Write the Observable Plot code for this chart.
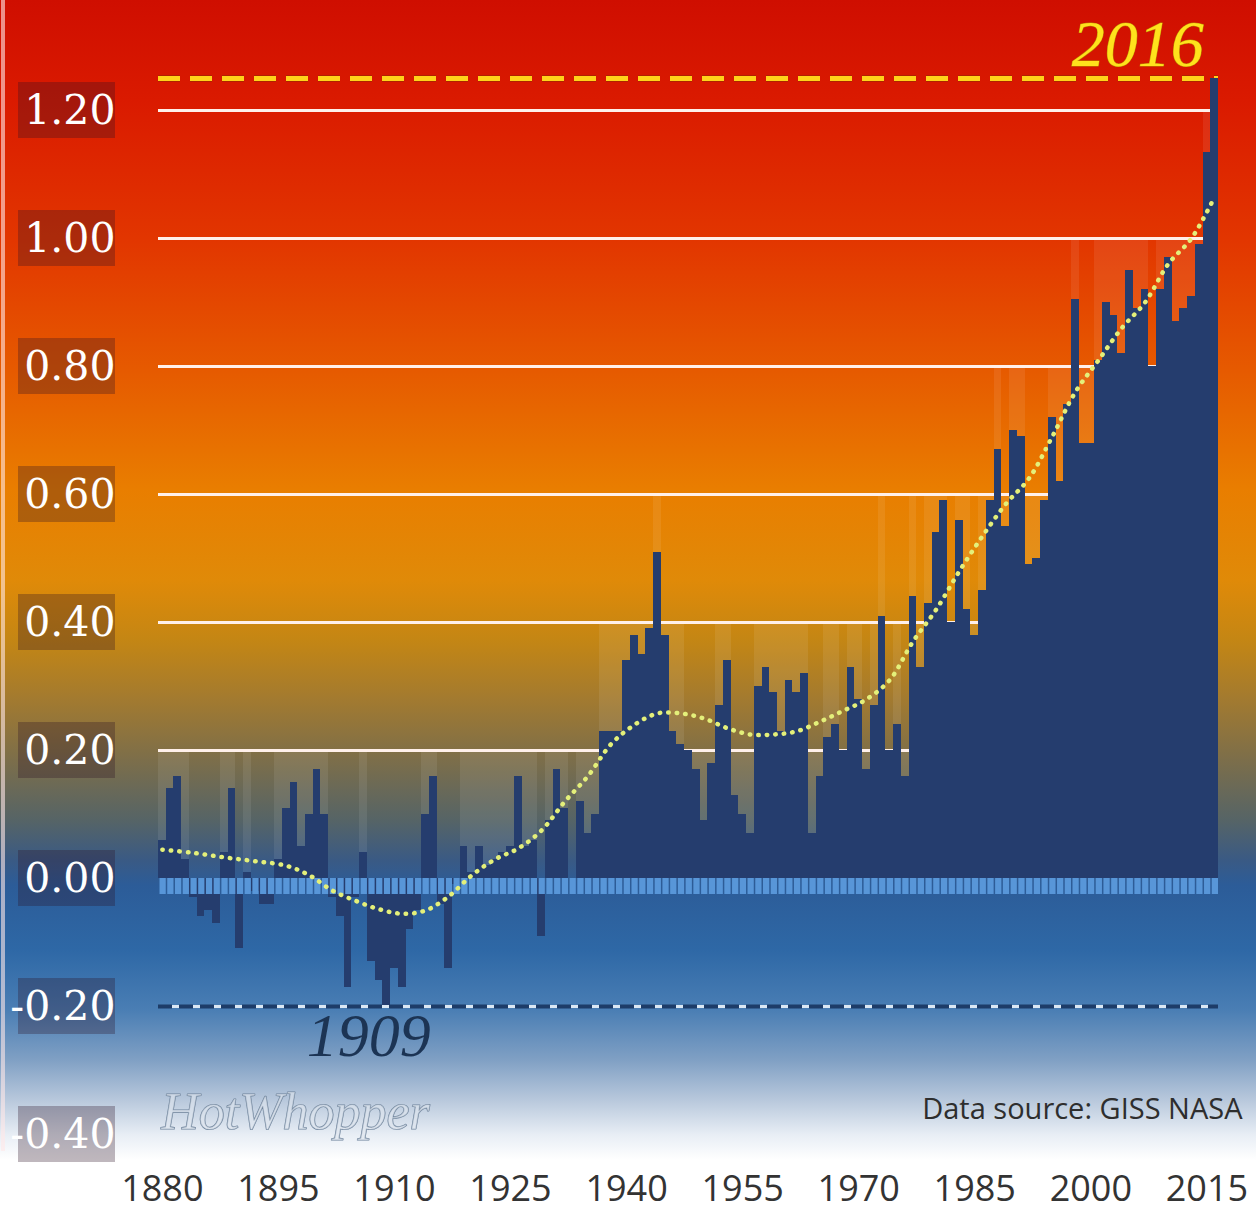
<!DOCTYPE html>
<html>
<head>
<meta charset="utf-8">
<script src="https://cdn.jsdelivr.net/npm/d3@7"></script>
<script src="https://cdn.jsdelivr.net/npm/@observablehq/plot@0.6"></script>
<style>
  html, body { margin: 0; padding: 0; background: #ffffff; }
  #chart { width: 1256px; height: 1211px; position: relative; }
  #chart svg { display: block; }
</style>
</head>
<body>
<div id="chart"></div>
<script>
// ---- Data ----
const firstYear = 1880;
const lastYear = 2016;
const anomalies = [
  0.06, 0.14, 0.16, 0.03, -0.03, -0.06, -0.05, -0.07, 0.04, 0.14,   // 1880-1889
  -0.11, 0.01, -0.02, -0.04, -0.04, 0.03, 0.11, 0.15, 0.05, 0.10,   // 1890-1899
  0.17, 0.10, -0.03, -0.06, -0.17, -0.03, 0.04, -0.13, -0.16, -0.20, // 1900-1909
  -0.14, -0.17, -0.08, -0.05, 0.10, 0.16, -0.04, -0.14, -0.01, 0.05, // 1910-1919
  0.01, 0.05, 0.02, 0.03, 0.04, 0.05, 0.16, 0.05, 0.06, -0.09,      // 1920-1929
  0.09, 0.17, 0.11, 0.00, 0.12, 0.07, 0.10, 0.23, 0.23, 0.23,       // 1930-1939
  0.34, 0.38, 0.35, 0.39, 0.51, 0.38, 0.23, 0.21, 0.20, 0.17,       // 1940-1949
  0.09, 0.18, 0.27, 0.34, 0.13, 0.10, 0.07, 0.30, 0.33, 0.29,       // 1950-1959
  0.23, 0.31, 0.29, 0.32, 0.07, 0.16, 0.22, 0.24, 0.20, 0.33,       // 1960-1969
  0.28, 0.17, 0.27, 0.41, 0.20, 0.24, 0.16, 0.44, 0.33, 0.43,       // 1970-1979
  0.54, 0.59, 0.40, 0.56, 0.42, 0.38, 0.45, 0.59, 0.67, 0.55,       // 1980-1989
  0.70, 0.69, 0.49, 0.50, 0.59, 0.72, 0.62, 0.74, 0.905, 0.68,      // 1990-1999
  0.68, 0.81, 0.90, 0.88, 0.82, 0.95, 0.89, 0.92, 0.80, 0.92,       // 2000-2009
  0.97, 0.87, 0.89, 0.91, 0.99, 1.135, 1.25                          // 2010-2016
];
const smoothYears = [1880, 1884, 1888, 1892, 1896, 1899, 1902, 1905, 1908, 1911, 1914, 1917,
  1920, 1923, 1926, 1929, 1932, 1935, 1938, 1941, 1944, 1947, 1950, 1953, 1956, 1959, 1962,
  1965, 1968, 1971, 1974, 1977, 1980, 1983, 1986, 1989, 1992, 1995, 1998, 2001, 2004, 2007,
  2010, 2013, 2016];
const smoothValues = [0.045, 0.040, 0.033, 0.027, 0.020, 0.005, -0.019, -0.035, -0.048, -0.055,
  -0.050, -0.028, 0.005, 0.030, 0.047, 0.075, 0.12, 0.16, 0.21, 0.24, 0.258, 0.258, 0.25, 0.235,
  0.225, 0.225, 0.23, 0.245, 0.262, 0.28, 0.31, 0.37, 0.42, 0.48, 0.535, 0.585, 0.625, 0.69,
  0.76, 0.81, 0.86, 0.90, 0.96, 1.00, 1.065];
const yTicks = [-0.4, -0.2, 0.0, 0.2, 0.4, 0.6, 0.8, 1.0, 1.2];
const gridValues = [0.2, 0.4, 0.6, 0.8, 1.0, 1.2];
const xTickYears = [1880, 1895, 1910, 1925, 1940, 1955, 1970, 1985, 2000, 2015];
const recordLabel = {year: 2016, value: 1.25, text: "2016"};
const coldLabel = {year: 1909, value: -0.20, text: "1909"};
const sourceText = "Data source: GISS NASA";
const watermark = "HotWhopper";

// ---- Tables built from the arrays ----
const years = d3.range(firstYear, lastYear + 1);
const data = years.map((year, i) => ({year, value: anomalies[i]}));
const smooth = smoothYears.map((year, i) => ({year, value: smoothValues[i]}));
const fmt = d => d.toFixed(2);

// background gradient (style only)
const gradStops = [
  [0, "#cf0e00"], [100, "#da1a00"], [240, "#e23600"], [370, "#e65a00"], [490, "#e97e00"],
  [580, "#e08a08"], [640, "#c48614"], [700, "#a27a30"], [760, "#7c6e4a"], [820, "#566466"],
  [860, "#3a5a84"], [885, "#2c5c98"], [950, "#2e68a6"], [1010, "#4a7eb4"], [1060, "#80a0c4"],
  [1100, "#b8c8dc"], [1135, "#e8eef5"], [1160, "#ffffff"], [1211, "#ffffff"]
];

function background(index, scales, values, dims) {
  const g = d3.create("svg:g");
  const grad = g.append("defs").append("linearGradient")
    .attr("id", "bgGrad").attr("x1", 0).attr("y1", 0).attr("x2", 0).attr("y2", 1);
  for (const [y, c] of gradStops) grad.append("stop").attr("offset", y / dims.height).attr("stop-color", c);
  g.append("rect").attr("width", dims.width).attr("height", dims.height).attr("fill", "url(#bgGrad)");
  g.append("rect").attr("x", 1).attr("width", 4).attr("height", dims.height - 60)
    .attr("fill", "#ffe8e8").attr("opacity", 0.6);
  return g.node();
}

function labelBoxes(index, scales, values, dims) {
  const g = d3.create("svg:g");
  for (const t of yTicks) {
    g.append("rect")
      .attr("x", dims.marginLeft - 140).attr("width", 97)
      .attr("y", scales.y(t) - 28).attr("height", 56)
      .attr("fill", "#2a1024").attr("fill-opacity", 0.3);
  }
  return g.node();
}

const plot = Plot.plot({
  width: 1256,
  height: 1211,
  marginLeft: 158,
  marginRight: 38,
  marginTop: 0,
  marginBottom: 0,
  style: {background: "transparent", fontFamily: "Open Sans"},
  x: {type: "linear", domain: [firstYear - 0.5, lastYear + 0.5], axis: null},
  y: {domain: [-0.5203125, 1.371875], axis: null},
  marks: [
    background,
    // faint lighter "ghost" columns above bars up to the next gridline
    Plot.rectY(data.filter(d => d.value > 0 && d.year < lastYear), {
      x1: d => d.year - 0.5, x2: d => d.year + 0.5,
      y1: "value", y2: d => Math.ceil(d.value / 0.2 - 1e-9) * 0.2,
      fill: "#ffffff", fillOpacity: 0.08, shapeRendering: "crispEdges"
    }),
    Plot.ruleY(gridValues, {stroke: "#fff0ea", strokeWidth: 3}),
    Plot.ruleY([recordLabel.value], {stroke: "#8a2a00", strokeWidth: 7, strokeDasharray: "22,10", strokeOpacity: 0.5}),
    Plot.ruleY([recordLabel.value], {stroke: "#ffd21a", strokeWidth: 5, strokeDasharray: "22,10"}),
    Plot.rectY(data, {
      x1: d => d.year - 0.5, x2: d => d.year + 0.5, y1: 0, y2: "value",
      fill: "#253d6e", shapeRendering: "crispEdges"
    }),
    Plot.rectY(data, {
      x1: d => d.year - 0.5, x2: d => d.year + 0.5, y1: 0, y2: -0.025,
      fill: "#5896d8", insetLeft: 1.5
    }),
    Plot.ruleY([coldLabel.value], {stroke: "#dbe8f4", strokeWidth: 3}),
    Plot.ruleY([coldLabel.value], {stroke: "#1d3c68", strokeWidth: 4, strokeDasharray: "14,7"}),
    Plot.line(smooth, {
      x: "year", y: "value", curve: "catmull-rom",
      stroke: "#e4f07a", strokeWidth: 4.5, strokeDasharray: "0.5,8", strokeLinecap: "round"
    }),
    labelBoxes,
    Plot.text(yTicks, {
      y: d => d, text: fmt, frameAnchor: "left", dx: -43, textAnchor: "end",
      fill: "#ffffff", fontSize: 41, fontFamily: "DejaVu Serif"
    }),
    Plot.text(xTickYears, {
      x: d => d, text: d => String(d), frameAnchor: "bottom", dy: -22, lineAnchor: "middle",
      fill: "#333333", fontSize: 36, fontFamily: "Open Sans"
    }),
    Plot.text([sourceText], {
      text: d => d, frameAnchor: "bottom-right", dx: 24, dy: -93, textAnchor: "end", lineAnchor: "bottom",
      fill: "#2e2e2e", fontSize: 29, fontFamily: "Open Sans"
    }),
    Plot.text([watermark], {
      text: d => d, frameAnchor: "bottom-left", dx: 137, dy: -99, textAnchor: "middle", lineAnchor: "middle",
      fill: "#dfe6ee", fillOpacity: 0.6, stroke: "#6f849c", strokeWidth: 1.2, fontSize: 52,
      fontStyle: "italic", fontFamily: "Liberation Serif", letterSpacing: 3
    }),
    Plot.text([recordLabel], {
      x: "year", y: "value", text: "text", dx: -77, dy: -34, textAnchor: "middle", lineAnchor: "middle",
      fill: "#ffe21c", stroke: "#b88a00", strokeWidth: 1, fontSize: 66, fontStyle: "italic",
      fontFamily: "Liberation Serif"
    }),
    Plot.text([coldLabel], {
      x: "year", y: "value", text: "text", dx: -18, dy: 30, textAnchor: "middle", lineAnchor: "middle",
      fill: "#1c3454", fontSize: 62, fontStyle: "italic", fontFamily: "Liberation Serif"
    })
  ]
});
document.getElementById("chart").appendChild(plot);
</script>
</body>
</html>
